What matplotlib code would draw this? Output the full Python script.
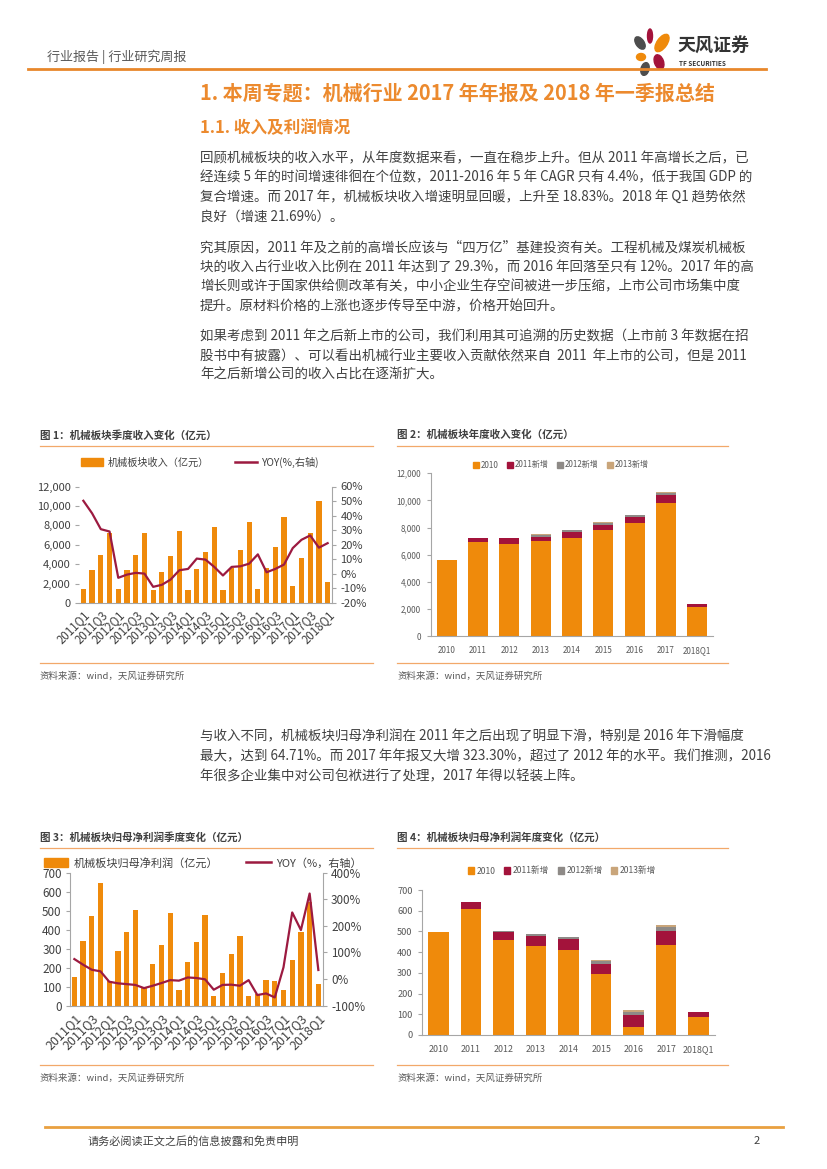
import matplotlib
matplotlib.use('Agg')
import matplotlib.pyplot as plt
import numpy as np
from matplotlib.lines import Line2D
from matplotlib.patches import Patch, Ellipse

plt.rcParams['font.family'] = ['Noto Sans CJK SC', 'DejaVu Sans']
plt.rcParams['axes.unicode_minus'] = False

# ---------------------------------------------------------------------------- #
# data

quarters = ['2011Q1', '2011Q2', '2011Q3', '2011Q4', '2012Q1', '2012Q2', '2012Q3', '2012Q4',
            '2013Q1', '2013Q2', '2013Q3', '2013Q4', '2014Q1', '2014Q2', '2014Q3', '2014Q4',
            '2015Q1', '2015Q2', '2015Q3', '2015Q4', '2016Q1', '2016Q2', '2016Q3', '2016Q4',
            '2017Q1', '2017Q2', '2017Q3', '2017Q4', '2018Q1']

# fig 1: quarterly revenue (亿元) and yoy (%)
rev_q = [1450, 3380, 4900, 7200, 1420, 3380, 4900, 7200,
         1320, 3180, 4820, 7400, 1330, 3460, 5250, 7850,
         1320, 3600, 5500, 8300, 1450, 3600, 5750, 8900,
         1800, 4600, 7250, 10550, 2200]
rev_yoy = [50.2, 41.6, 30.7, 29.1, -2.7, -0.5, 0.7, 0.2,
           -8.9, -7.5, -3.9, 2.5, 3.4, 10.5, 9.8, 4.8,
           -1.1, 4.8, 5.2, 7.0, 13.4, 1.1, 3.4, 6.4,
           17.7, 23.4, 26.4, 18.0, 21.1]

# fig 3: quarterly net profit (亿元) and yoy (%)
np_q = [152, 341, 473, 646, 128, 289, 389, 503,
        98, 219, 319, 489, 82, 231, 336, 476,
        51, 170, 271, 366, 51, 62, 135, 130,
        82, 240, 389, 545, 114]
np_yoy = [75, 54, 35, 29, -10, -16, -19, -22,
          -34, -25, -15, -4, -6, 6, 4, -1,
          -40, -22, -21, -25, -4, -60, -54, -69,
          44, 250, 184, 321, 34]

years = ['2010', '2011', '2012', '2013', '2014', '2015', '2016', '2017', '2018Q1']
stack_labels = ['2010', '2011新增', '2012新增', '2013新增']

# fig 2: yearly revenue by listing cohort
rev_2010 = [5600, 6930, 6810, 7030, 7230, 7820, 8340, 9810, 2110]
rev_2011 = [0, 300, 390, 270, 440, 340, 410, 570, 250]
rev_2012 = [0, 0, 20, 170, 120, 170, 150, 170, 20]
rev_2013 = [0, 0, 0, 80, 50, 100, 50, 100, 10]

# fig 4: yearly net profit by listing cohort
np_2010 = [498, 609, 459, 430, 411, 295, 39, 435, 89]
np_2011 = [0, 34, 39, 48, 53, 48, 58, 67, 21]
np_2012 = [0, 0, 4, 10, 8, 13, 14, 21, 0]
np_2013 = [0, 0, 0, 0, 0, 6, 10, 8, 0]

# ---------------------------------------------------------------------------- #
# style

W, H = 827, 1169
ORANGE = '#EF8A0B'
MAROON = '#9C1A40'
RED = '#A3133B'
GREY = '#8E8A87'
TAN = '#C9A57A'
HEAD = '#EC8A2E'
TXT = '#404040'
AXC = '#A6A6A6'
stack_colors = [ORANGE, RED, GREY, TAN]


def fx(x):
    return x / W


def fy(y):
    return 1 - y / H


def axes_px(l, t, r, b):
    return fig.add_axes([l / W, 1 - b / H, (r - l) / W, (b - t) / H])


def hline(x0, x1, y, color, lw):
    fig.add_artist(Line2D([fx(x0), fx(x1)], [fy(y), fy(y)], color=color, lw=lw,
                          transform=fig.transFigure))


def text(x, y, s, size, color=TXT, weight='normal', ha='left'):
    fig.text(fx(x), fy(y), s, fontsize=size, color=color, weight=weight, ha=ha, va='center')


fig = plt.figure(figsize=(W / 100, H / 100), dpi=100)

# ---------------------------------------------------------------------------- #
# page header

text(47, 57, '行业报告 | 行业研究周报', 9.4, color='#595959')
hline(28, 766, 69, '#E8872B', 2.0)
text(678, 46, '天风证券', 13, color='#333333', weight='bold')
text(679, 63, 'TF SECURITIES', 4.6, color='#333333', weight='bold')

logo = fig.add_axes([628 / W, 1 - 76 / H, 50 / W, 50 / H])
logo.set_xlim(0, 50)
logo.set_ylim(50, 0)
logo.axis('off')
for (cx, cy, w, h, ang, c) in [(22, 10, 5, 14, 0, '#A3133B'), (34, 17, 10, 20, 35, '#EF8A0B'),
                               (12, 17, 8, 14, -35, '#4D4D4D'), (13, 31, 9, 7, 0, '#EF8A0B'),
                               (31, 36, 9, 15, -20, '#A3133B'), (17, 43, 8, 13, 15, '#4D4D4D')]:
    logo.add_patch(Ellipse((cx, cy), w, h, angle=ang, color=c))

text(200, 93, '1. 本周专题：机械行业 2017 年年报及 2018 年一季报总结', 14.4, color=HEAD, weight='bold')
text(200, 128, '1.1. 收入及利润情况', 12, color=HEAD, weight='bold')

para = [
    (158, '回顾机械板块的收入水平，从年度数据来看，一直在稳步上升。但从 2011 年高增长之后，已'),
    (177.5, '经连续 5 年的时间增速徘徊在个位数，2011-2016 年 5 年 CAGR 只有 4.4%，低于我国 GDP 的'),
    (197, '复合增速。而 2017 年，机械板块收入增速明显回暖，上升至 18.83%。2018 年 Q1 趋势依然'),
    (216.5, '良好（增速 21.69%）。'),
    (247, '究其原因，2011 年及之前的高增长应该与“四万亿”基建投资有关。工程机械及煤炭机械板'),
    (267, '块的收入占行业收入比例在 2011 年达到了 29.3%，而 2016 年回落至只有 12%。2017 年的高'),
    (286, '增长则或许于国家供给侧改革有关，中小企业生存空间被进一步压缩，上市公司市场集中度'),
    (306, '提升。原材料价格的上涨也逐步传导至中游，价格开始回升。'),
    (336, '如果考虑到 2011 年之后新上市的公司，我们利用其可追溯的历史数据（上市前 3 年数据在招'),
    (356, '股书中有披露）、可以看出机械行业主要收入贡献依然来自  2011  年上市的公司，但是 2011'),
    (375, '年之后新增公司的收入占比在逐渐扩大。'),
    (736, '与收入不同，机械板块归母净利润在 2011 年之后出现了明显下滑，特别是 2016 年下滑幅度'),
    (756, '最大，达到 64.71%。而 2017 年年报又大增 323.30%，超过了 2012 年的水平。我们推测，2016'),
    (776, '年很多企业集中对公司包袱进行了处理，2017 年得以轻装上阵。'),
]
for y, s in para:
    text(200, y, s, 9.7)

# chart frames (titles, rules, sources)
frames = [(40, 373, 435, '图 1：机械板块季度收入变化（亿元）'),
          (397, 728, 435, '图 2：机械板块年度收入变化（亿元）'),
          (40, 373, 837, '图 3：机械板块归母净利润季度变化（亿元）'),
          (397, 728, 837, '图 4：机械板块归母净利润年度变化（亿元）')]
for x0, x1, y, s in frames:
    text(x0, y, s, 7.6, weight='bold')
    hline(x0, x1, y + 11, '#F2A86A', 0.9)
    hline(x0, x1, y + 228, '#F2A86A', 0.9)
    text(x0, y + 241, '资料来源：wind，天风证券研究所', 6.8, color='#595959')

# footer
hline(45, 783, 1127, '#E9A040', 2.0)
text(88, 1141, '请务必阅读正文之后的信息披露和免责申明', 8, color='#404040')
text(760, 1141, '2', 8, color='#404040', ha='right')

# ---------------------------------------------------------------------------- #
# quarterly charts (bars + yoy line on right axis)


def quarterly(box, vals, yoy, ylim, ystep, rlim, rstep, leg_labels, leg_xy, sizes, left_line):
    ax = axes_px(*box)
    x = np.arange(len(quarters))
    ax.bar(x, vals, width=0.6, color=ORANGE, zorder=2)
    ax.set_xlim(-0.5, len(quarters) - 0.5)
    ax.set_ylim(*ylim)
    yt = np.arange(ylim[0], ylim[1] + 1, ystep)
    ax.set_yticks(yt)
    ax.set_yticklabels(['{:,}'.format(v) for v in yt])
    ax.set_xticks(x[::2])
    ax.set_xticklabels(quarters[::2], rotation=45, ha='right', rotation_mode='anchor')
    for s in ['top', 'right']:
        ax.spines[s].set_visible(False)
    ax.spines['left'].set_visible(left_line)
    ax.spines['left'].set_color(AXC)
    ax.spines['bottom'].set_color(AXC)
    ax.tick_params(axis='y', length=3, color=AXC, labelsize=sizes[0], labelcolor=TXT, pad=3)
    ax.tick_params(axis='x', length=0, labelsize=sizes[1], labelcolor=TXT, pad=4)

    axr = ax.twinx()
    axr.plot(x, yoy, color=MAROON, lw=1.6)
    axr.set_ylim(*rlim)
    rt = np.arange(rlim[0], rlim[1] + 1, rstep)
    axr.set_yticks(rt)
    axr.set_yticklabels(['{}%'.format(v) for v in rt])
    for s in ['top', 'left', 'bottom']:
        axr.spines[s].set_visible(False)
    axr.spines['right'].set_color(AXC)
    axr.tick_params(axis='y', length=3, color=AXC, labelsize=sizes[0], labelcolor=TXT, pad=3)

    handles = [Patch(color=ORANGE), Line2D([0], [0], color=MAROON, lw=1.8)]
    ax.legend(handles, leg_labels, loc='center', bbox_to_anchor=(fx(leg_xy[0]), fy(leg_xy[1])),
              bbox_transform=fig.transFigure, ncol=2, frameon=False, fontsize=sizes[2],
              handlelength=2.2, handleheight=0.9, columnspacing=2.5, handletextpad=0.5,
              labelcolor=TXT)


quarterly((79, 486.5, 332, 603), rev_q, rev_yoy, (0, 12000), 2000, (-20, 60), 10,
          ['机械板块收入（亿元）', 'YOY(%,右轴)'], (200, 462), (8, 8.3, 7.3), False)
quarterly((70, 872.5, 322.7, 1005.7), np_q, np_yoy, (0, 700), 100, (-100, 400), 100,
          ['机械板块归母净利润（亿元）', 'YOY（%，右轴）'], (203, 863), (8.4, 9, 8), True)

# ---------------------------------------------------------------------------- #
# yearly stacked charts


def yearly(box, layers, ylim, ystep, leg_xy, sizes):
    ax = axes_px(*box)
    x = np.arange(len(years))
    bottom = np.zeros(len(years))
    for vals, c in zip(layers, stack_colors):
        ax.bar(x, vals, bottom=bottom, width=0.63, color=c, zorder=2)
        bottom = bottom + np.array(vals)
    ax.set_xlim(-0.5, len(years) - 0.5)
    ax.set_ylim(*ylim)
    yt = np.arange(ylim[0], ylim[1] + 1, ystep)
    ax.set_yticks(yt)
    ax.set_yticklabels(['{:,}'.format(v) for v in yt])
    ax.set_xticks(x)
    ax.set_xticklabels(years)
    for s in ['top', 'right']:
        ax.spines[s].set_visible(False)
    ax.spines['left'].set_color(AXC)
    ax.spines['bottom'].set_color(AXC)
    ax.tick_params(axis='y', length=3, color=AXC, labelsize=sizes[0], labelcolor='#595959', pad=4)
    ax.tick_params(axis='x', length=0, labelsize=sizes[1], labelcolor='#595959', pad=7)

    handles = [Patch(color=c) for c in stack_colors]
    ax.legend(handles, stack_labels, loc='center', bbox_to_anchor=(fx(leg_xy[0]), fy(leg_xy[1])),
              bbox_transform=fig.transFigure, ncol=4, frameon=False, fontsize=sizes[2],
              handlelength=0.7, handleheight=0.7, columnspacing=1.0, handletextpad=0.3,
              labelcolor='#595959')


yearly((431, 473.3, 713, 636), [rev_2010, rev_2011, rev_2012, rev_2013], (0, 12000), 2000,
       (561, 465), (5.8, 5.8, 5.8))
yearly((422.3, 890, 715, 1035), [np_2010, np_2011, np_2012, np_2013], (0, 700), 100,
       (562, 871), (6.6, 6.4, 6.2))

fig.savefig('out.png', dpi=100)
